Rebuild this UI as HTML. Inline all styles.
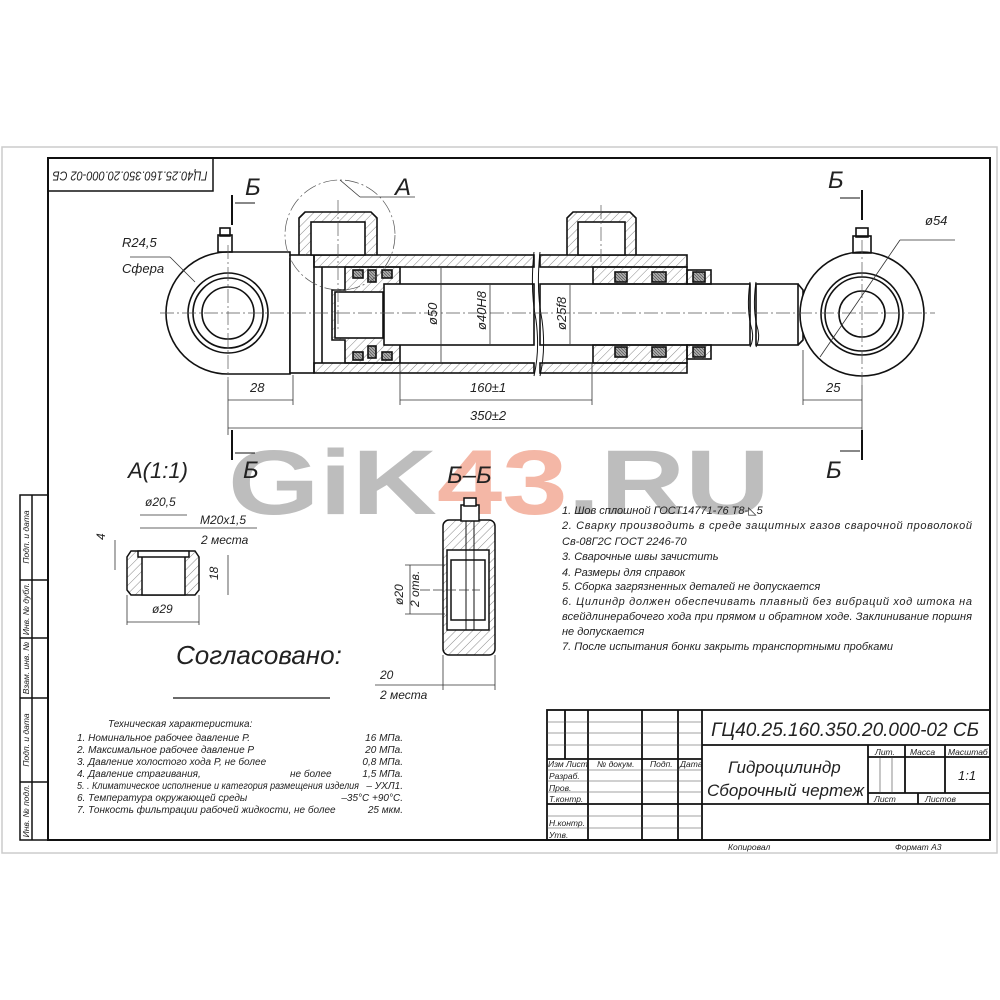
<!DOCTYPE html>
<html><head><meta charset="utf-8"><style>
html,body{margin:0;padding:0;background:#fff}
svg{display:block}
text{font-family:"Liberation Sans","DejaVu Sans",sans-serif;font-style:italic;fill:#222}
text.wm{font-style:normal}
</style></head><body>
<svg width="1000" height="1000" viewBox="0 0 1000 1000" xmlns="http://www.w3.org/2000/svg">
<defs>
<pattern id="h" width="6" height="6" patternUnits="userSpaceOnUse" patternTransform="rotate(45)">
<line x1="0" y1="0" x2="0" y2="6" stroke="#555" stroke-width="0.7"/></pattern>
<pattern id="x" width="3" height="3" patternUnits="userSpaceOnUse">
<rect width="3" height="3" fill="#aaa"/><line x1="0" y1="0" x2="3" y2="3" stroke="#444" stroke-width="0.6"/></pattern>
</defs>
<rect x="2" y="147" width="995" height="706" fill="none" stroke="#ccc" stroke-width="1.5"/>
<rect x="48" y="158" width="942" height="682" fill="none" stroke="#111" stroke-width="2"/>
<rect x="48" y="158" width="165" height="33" fill="none" stroke="#111" stroke-width="1.5"/>
<text transform="translate(130,175) rotate(180)" font-size="13" text-anchor="middle" dominant-baseline="middle" textLength="155" lengthAdjust="spacingAndGlyphs">ГЦ40.25.160.350.20.000-02 СБ</text>
<g stroke="#111" stroke-width="1.5" fill="none">
<rect x="20" y="495" width="28" height="345"/>
<line x1="32" y1="495" x2="32" y2="840"/>
<line x1="20" y1="580" x2="48" y2="580"/><line x1="20" y1="638" x2="48" y2="638"/>
<line x1="20" y1="698" x2="48" y2="698"/><line x1="20" y1="782" x2="48" y2="782"/>
</g>
<g font-size="8.5" text-anchor="middle">
<text transform="translate(29,537) rotate(-90)">Подп. и дата</text>
<text transform="translate(29,609) rotate(-90)">Инв. № дубл.</text>
<text transform="translate(29,668) rotate(-90)">Взам. инв. №</text>
<text transform="translate(29,740) rotate(-90)">Подп. и дата</text>
<text transform="translate(29,811) rotate(-90)">Инв. № подл.</text>
</g>

<text class="wm" x="228" y="514" font-size="92" font-weight="bold" textLength="542" lengthAdjust="spacingAndGlyphs" style="fill:#bdbdbd;font-style:normal">GiK<tspan style="fill:#f4b7a6">43</tspan>.RU</text>

<g stroke="#111" stroke-width="1.6" fill="none">
<path d="M290 252 L228 252 A62 61 0 0 0 228 374 L290 374 Z" fill="#fff"/>
<circle cx="228" cy="313" r="40"/><circle cx="228" cy="313" r="35"/><circle cx="228" cy="313" r="26"/>
<rect x="290" y="255" width="24" height="118" fill="#fff"/>
<rect x="218" y="235" width="14" height="17"/><rect x="220" y="228" width="10" height="8"/>
<rect x="314" y="255" width="220" height="12" fill="url(#h)"/>
<rect x="314" y="363" width="220" height="10" fill="url(#h)"/>
<rect x="540" y="255" width="147" height="12" fill="url(#h)"/>
<rect x="540" y="363" width="147" height="10" fill="url(#h)"/>
<line x1="322" y1="267" x2="322" y2="363"/>
<path d="M345 267 L400 267 L400 363 L345 363 L345 340 L332 340 L332 290 L345 290 Z" fill="url(#h)"/>
<rect x="335" y="292" width="48" height="46" fill="#fff"/>
<rect x="353" y="270" width="10" height="8" fill="url(#x)"/><rect x="368" y="270" width="8" height="12" fill="url(#x)"/><rect x="382" y="270" width="10" height="8" fill="url(#x)"/>
<rect x="353" y="352" width="10" height="8" fill="url(#x)"/><rect x="368" y="346" width="8" height="12" fill="url(#x)"/><rect x="382" y="352" width="10" height="8" fill="url(#x)"/>
<rect x="384" y="284" width="150" height="61" fill="#fff"/>
<rect x="540" y="284" width="210" height="61" fill="#fff"/>
<rect x="756" y="284" width="42" height="61" fill="#fff"/>
<path d="M534 252 Q530 290 536 320 Q540 350 534 376" stroke-width="1"/>
<path d="M540 252 Q536 290 542 320 Q546 350 540 376" stroke-width="1"/>
<path d="M750 282 Q746 310 752 330 Q754 340 750 347" stroke-width="1"/>
<path d="M756 282 Q752 310 758 330 Q760 340 756 347" stroke-width="1"/>
<path d="M593 267 L687 267 L687 284 L593 284 Z" fill="url(#h)"/>
<path d="M593 345 L687 345 L687 363 L593 363 Z" fill="url(#h)"/>
<rect x="687" y="270" width="24" height="14" fill="url(#h)"/><rect x="687" y="345" width="24" height="14" fill="url(#h)"/>
<rect x="615" y="272" width="12" height="10" fill="url(#x)"/><rect x="652" y="272" width="14" height="10" fill="url(#x)"/><rect x="693" y="272" width="12" height="10" fill="url(#x)"/>
<rect x="615" y="347" width="12" height="10" fill="url(#x)"/><rect x="652" y="347" width="14" height="10" fill="url(#x)"/><rect x="693" y="347" width="12" height="10" fill="url(#x)"/>
<path d="M798 284 L803 290 L803 340 L798 345"/>
<path d="M299 255 L299 218 L305 212 L371 212 L377 218 L377 255" fill="url(#h)"/>
<rect x="311" y="222" width="54" height="33" fill="#fff"/>
<path d="M567 255 L567 218 L573 212 L630 212 L636 218 L636 255" fill="url(#h)"/>
<rect x="578" y="222" width="47" height="33" fill="#fff"/>
<circle cx="862" cy="314" r="62" fill="#fff"/>
<circle cx="862" cy="314" r="41"/><circle cx="862" cy="314" r="37"/><circle cx="862" cy="314" r="23"/>
<rect x="853" y="236" width="18" height="17"/><rect x="856" y="228" width="12" height="9"/>
</g>
<g stroke="#555" stroke-width="0.7" stroke-dasharray="14 3 2 3" fill="none">
<line x1="160" y1="313" x2="935" y2="313"/>
<line x1="228" y1="245" x2="228" y2="380"/>
<line x1="862" y1="240" x2="862" y2="385"/>
<line x1="338" y1="200" x2="338" y2="330"/>
<line x1="601" y1="205" x2="601" y2="262"/>
<circle cx="340" cy="235" r="55"/>
</g>
<g stroke="#333" stroke-width="0.8" fill="none">
<line x1="228" y1="380" x2="228" y2="435"/><line x1="293" y1="375" x2="293" y2="405"/>
<line x1="228" y1="400" x2="293" y2="400"/>
<line x1="400" y1="363" x2="400" y2="405"/><line x1="592" y1="363" x2="592" y2="405"/>
<line x1="400" y1="400" x2="592" y2="400"/>
<line x1="228" y1="428" x2="862" y2="428"/>
<line x1="862" y1="385" x2="862" y2="430"/><line x1="803" y1="350" x2="803" y2="405"/>
<line x1="803" y1="400" x2="862" y2="400"/>
<line x1="441" y1="268" x2="441" y2="362"/><line x1="490" y1="285" x2="490" y2="344"/><line x1="570" y1="285" x2="570" y2="344"/>
<line x1="820" y1="357" x2="900" y2="240"/><line x1="900" y1="240" x2="955" y2="240"/>
<line x1="130" y1="257" x2="170" y2="257"/><line x1="170" y1="257" x2="195" y2="282"/>
<line x1="340" y1="180" x2="360" y2="197"/><line x1="360" y1="197" x2="415" y2="197"/>
</g>
<g stroke="#111" stroke-width="2">
<line x1="232" y1="195" x2="232" y2="225"/><line x1="232" y1="430" x2="232" y2="460"/>
<line x1="862" y1="190" x2="862" y2="220"/><line x1="862" y1="430" x2="862" y2="460"/>
<line x1="235" y1="203" x2="255" y2="203" stroke-width="1"/><line x1="235" y1="453" x2="255" y2="453" stroke-width="1"/>
<line x1="840" y1="198" x2="860" y2="198" stroke-width="1"/><line x1="840" y1="451" x2="860" y2="451" stroke-width="1"/>
</g>
<g font-size="13">
<text x="250" y="392">28</text><text x="470" y="392">160±1</text><text x="470" y="420">350±2</text>
<text x="826" y="392">25</text><text x="925" y="225">ø54</text>
<text x="122" y="247">R24,5</text><text x="122" y="273">Сфера</text>
<text transform="translate(437,325) rotate(-90)">ø50</text>
<text transform="translate(486,330) rotate(-90)">ø40H8</text>
<text transform="translate(566,330) rotate(-90)">ø25f8</text>
</g>
<g font-size="24" font-style="normal"><text x="245" y="195">Б</text><text x="395" y="195">А</text><text x="828" y="188">Б</text>
<text x="243" y="478">Б</text><text x="826" y="478">Б</text><text x="447" y="483">Б–Б</text></g>

<text x="128" y="478" font-size="22" font-style="normal">А(1:1)</text>
<g stroke="#111" stroke-width="1.5"><path d="M131 551 L195 551 L199 557 L199 590 L195 595 L131 595 L127 590 L127 557 Z" fill="url(#h)"/>
<rect x="142" y="555" width="43" height="40" fill="#fff"/><rect x="138" y="551" width="51" height="6" fill="#fff"/></g>
<g stroke="#333" stroke-width="0.8"><line x1="140" y1="515" x2="187" y2="515"/><line x1="140" y1="528" x2="257" y2="528"/>
<line x1="127" y1="595" x2="127" y2="625"/><line x1="199" y1="595" x2="199" y2="625"/><line x1="127" y1="622" x2="199" y2="622"/>
<line x1="228" y1="555" x2="228" y2="595"/><line x1="115" y1="540" x2="115" y2="570"/></g>
<g font-size="12"><text x="145" y="506">ø20,5</text><text x="200" y="524">M20x1,5</text><text x="201" y="544">2 места</text>
<text x="152" y="613">ø29</text><text transform="translate(218,580) rotate(-90)">18</text><text transform="translate(105,540) rotate(-90)">4</text></g>
<text x="176" y="664" font-size="26">Согласовано:</text>
<line x1="173" y1="698" x2="330" y2="698" stroke="#111" stroke-width="1.2"/>
<g font-size="10">
<text x="108" y="727">Техническая характеристика:</text>
<text x="77" y="741">1. Номинальное рабочее давление    Р.</text><text x="403" y="741" text-anchor="end">16 МПа.</text>
<text x="77" y="753">2. Максимальное рабочее давление Р</text><text x="403" y="753" text-anchor="end">20 МПа.</text>
<text x="77" y="765">3. Давление холостого хода Р,     не более</text><text x="403" y="765" text-anchor="end">0,8 МПа.</text>
<text x="77" y="777">4. Давление страгивания,</text><text x="290" y="777">не более</text><text x="403" y="777" text-anchor="end">1,5 МПа.</text>
<text x="77" y="789" textLength="282" lengthAdjust="spacingAndGlyphs">5. . Климатическое исполнение и категория размещения изделия</text><text x="403" y="789" text-anchor="end">– УХЛ1.</text>
<text x="77" y="801">6. Температура окружающей среды</text><text x="403" y="801" text-anchor="end">–35°С +90°С.</text>
<text x="77" y="813">7. Тонкость фильтрации рабочей жидкости, не более</text><text x="403" y="813" text-anchor="end">25 мкм.</text>
</g>

<g stroke="#111" stroke-width="1.5">
<rect x="443" y="520" width="52" height="135" rx="6" fill="url(#h)"/>
<rect x="447" y="550" width="42" height="80" fill="#fff"/>
<rect x="451" y="560" width="34" height="60" fill="#fff"/>
<line x1="466" y1="520" x2="466" y2="630" stroke-width="1"/><line x1="474" y1="520" x2="474" y2="630" stroke-width="1"/>
<rect x="461" y="505" width="18" height="16" fill="#fff"/><rect x="464" y="498" width="12" height="8" fill="#fff"/>
</g>
<g stroke="#333" stroke-width="0.8"><line x1="405" y1="565" x2="445" y2="565"/><line x1="405" y1="614" x2="445" y2="614"/>
<line x1="410" y1="565" x2="410" y2="614"/><line x1="443" y1="655" x2="443" y2="690"/><line x1="495" y1="655" x2="495" y2="690"/>
<line x1="375" y1="685" x2="495" y2="685"/><line x1="420" y1="590" x2="480" y2="590" stroke-dasharray="10 3"/></g>
<g font-size="12"><text transform="translate(403,605) rotate(-90)">ø20</text><text transform="translate(419,607) rotate(-90)">2 отв.</text>
<text x="380" y="679">20</text><text x="380" y="699">2 места</text></g>

<g font-size="11">
<text x="562" y="514">1. Шов сплошной  ГОСТ14771-76 Т8-◺5</text>
<text x="562" y="529" textLength="410">2. Сварку производить в среде защитных газов сварочной проволокой</text>
<text x="562" y="545">Св-08Г2С ГОСТ 2246-70</text>
<text x="562" y="560">3. Сварочные швы зачистить</text>
<text x="562" y="576">4. Размеры для справок</text>
<text x="562" y="590">5. Сборка загрязненных деталей не допускается</text>
<text x="562" y="605" textLength="410">6. Цилиндр должен обеспечивать плавный без вибраций ход штока на</text>
<text x="562" y="620" textLength="410">всейдлинерабочего хода при прямом и обратном ходе. Заклинивание поршня</text>
<text x="562" y="635">не допускается</text>
<text x="562" y="650">7. После испытания бонки закрыть транспортными пробками</text>
</g>

<g stroke="#111" stroke-width="1.8" fill="none">
<rect x="547" y="710" width="443" height="130"/>
<line x1="702" y1="710" x2="702" y2="840"/>
<line x1="565" y1="710" x2="565" y2="759"/>
<line x1="588" y1="710" x2="588" y2="840"/><line x1="642" y1="710" x2="642" y2="840"/><line x1="678" y1="710" x2="678" y2="840"/>
<line x1="547" y1="759" x2="702" y2="759"/><line x1="547" y1="804" x2="990" y2="804"/>
<line x1="702" y1="745" x2="990" y2="745"/>
<line x1="868" y1="745" x2="868" y2="804"/>
<line x1="868" y1="757" x2="990" y2="757"/><line x1="905" y1="745" x2="905" y2="793"/><line x1="945" y1="745" x2="945" y2="793"/>
<line x1="868" y1="793" x2="990" y2="793"/><line x1="918" y1="793" x2="918" y2="804"/>
</g>
<g stroke="#444" stroke-width="0.6">
<line x1="547" y1="722" x2="702" y2="722"/><line x1="547" y1="733" x2="702" y2="733"/><line x1="547" y1="745" x2="702" y2="745"/>
<line x1="547" y1="770" x2="702" y2="770"/><line x1="547" y1="781" x2="702" y2="781"/><line x1="547" y1="792" x2="702" y2="792"/>
<line x1="547" y1="816" x2="702" y2="816"/><line x1="547" y1="828" x2="702" y2="828"/>
<line x1="880" y1="757" x2="880" y2="793"/><line x1="892" y1="757" x2="892" y2="793"/>
</g>
<g font-size="8.5">
<text x="548" y="767">Изм</text><text x="566" y="767">Лист</text><text x="597" y="767">№ докум.</text><text x="650" y="767">Подп.</text><text x="680" y="767">Дата</text>
<text x="549" y="779">Разраб.</text><text x="549" y="791">Пров.</text><text x="549" y="802">Т.контр.</text>
<text x="549" y="826">Н.контр.</text><text x="549" y="838">Утв.</text>
<text x="875" y="755">Лит.</text><text x="910" y="755">Масса</text><text x="948" y="755">Масштаб</text>
<text x="874" y="802">Лист</text><text x="925" y="802">Листов</text>
<text x="728" y="850">Копировал</text><text x="895" y="850">Формат     А3</text>
</g>
<text x="845" y="736" font-size="19" text-anchor="middle">ГЦ40.25.160.350.20.000-02 СБ</text>
<text x="728" y="773" font-size="17">Гидроцилиндр</text>
<text x="707" y="796" font-size="17">Сборочный чертеж</text>
<text x="958" y="780" font-size="13">1:1</text>
</svg>
</body></html>
